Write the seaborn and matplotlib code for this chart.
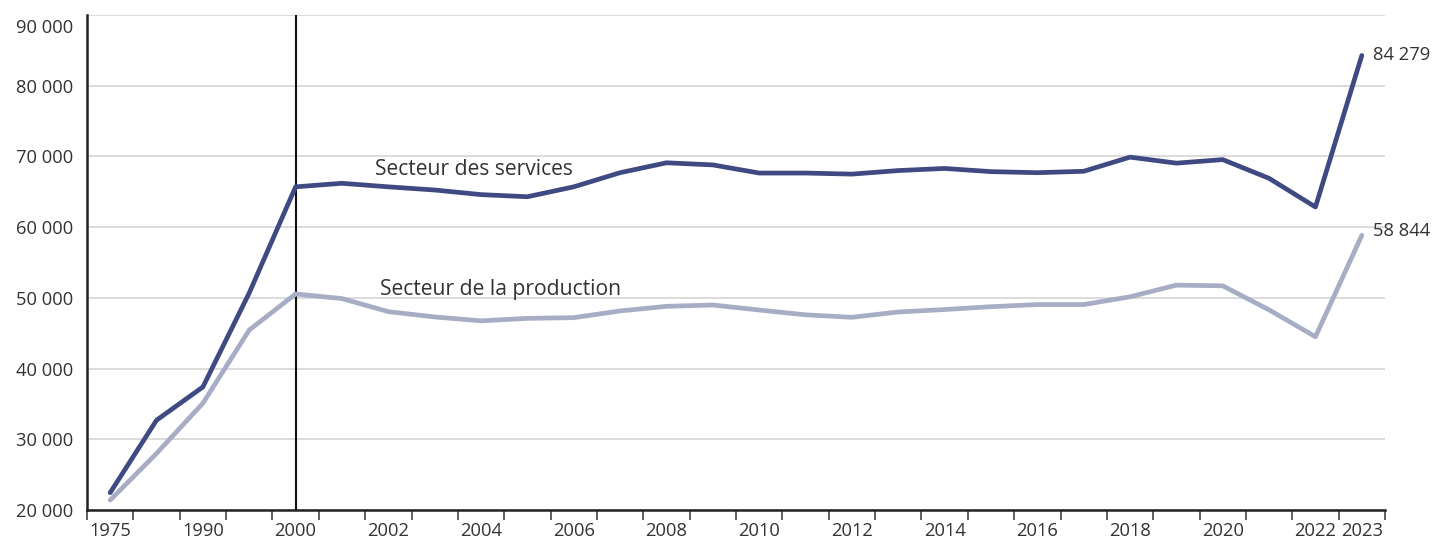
import numpy as np
import pandas as pd
import matplotlib
matplotlib.use("Agg")
import matplotlib.pyplot as plt
import matplotlib.transforms as mtransforms
from matplotlib.ticker import FixedLocator, FuncFormatter, NullFormatter
import seaborn as sns

# data
years = [1975, 1980, 1990, 1995, 2000, 2001, 2002, 2003, 2004, 2005, 2006, 2007,
         2008, 2009, 2010, 2011, 2012, 2013, 2014, 2015, 2016, 2017, 2018, 2019,
         2020, 2021, 2022, 2023]
services = [22450, 32700, 37400, 50700, 65700, 66200, 65700, 65250, 64600, 64300,
            65700, 67700, 69100, 68800, 67650, 67650, 67500, 68000, 68300, 67850,
            67700, 67900, 69900, 69050, 69550, 66900, 62850, 84279]
production = [21400, 28000, 35100, 45450, 50550, 49900, 48050, 47300, 46750, 47100,
              47200, 48150, 48800, 48990, 48280, 47600, 47250, 48000, 48350, 48750,
              49050, 49050, 50150, 51800, 51700, 48300, 44500, 58844]
shown_years = [1975, 1990, 2000, 2002, 2004, 2006, 2008, 2010, 2012, 2014, 2016,
               2018, 2020, 2022, 2023]
series_names = ["Secteur des services", "Secteur de la production"]
colors = ["#3f4a82", "#a7adc5"]

df = pd.DataFrame({
    "pos": list(range(len(years))) * 2,
    "value": services + production,
    "serie": [series_names[0]] * len(years) + [series_names[1]] * len(years),
})

sns.set_style("white")
plt.rcParams["font.family"] = ["Open Sans", "DejaVu Sans"]
txt = "#333333"
fs_tick = 13.2
fs_lab = 15.2

fig = plt.figure(figsize=(14.37, 5.41), dpi=100)
ax = fig.add_axes([87 / 1437, 1 - 510 / 541, (1385 - 87) / 1437, (510 - 15) / 541])

sns.lineplot(data=df, x="pos", y="value", hue="serie", palette=colors,
             linewidth=3.4, legend=False, ax=ax, zorder=3)

ax.set_xlim(-0.5, len(years) - 0.5)
ax.set_ylim(20000, 90000)
ax.set_yticks(np.arange(20000, 90001, 10000))
ax.yaxis.set_major_formatter(FuncFormatter(lambda v, p: f"{int(v):,}".replace(",", " ")))
ax.grid(axis="y", color="#d9d9d9", linewidth=1.3)
ax.set_axisbelow(True)

# ticks at category boundaries, labels centred in each category
ax.xaxis.set_major_locator(FixedLocator(np.arange(-0.5, len(years), 1.0)))
ax.xaxis.set_major_formatter(NullFormatter())
ax.xaxis.set_minor_locator(FixedLocator([years.index(y) for y in shown_years]))
ax.set_xticklabels([str(y) for y in shown_years], minor=True)
ax.tick_params(axis="x", which="major", length=7, width=1.3, color="#555555",
               direction="out", bottom=True)
ax.tick_params(axis="x", which="minor", length=0, pad=9, labelsize=fs_tick, labelcolor=txt)
ax.tick_params(axis="y", length=0, pad=10, labelsize=fs_tick, labelcolor=txt)

for side in ["top", "right"]:
    ax.spines[side].set_visible(False)
for side in ["left", "bottom"]:
    ax.spines[side].set_color("#222222")
    ax.spines[side].set_linewidth(1.8)

# top label sits a bit lower
top_lab = ax.get_yticklabels()[-1]
top_lab.set_transform(top_lab.get_transform() +
                      mtransforms.ScaledTranslation(0, -11 / 100, fig.dpi_scale_trans))

ax.axvline(years.index(2000), color="#111111", linewidth=1.5, zorder=2)

ax.text(5.72, 68100, series_names[0], fontsize=fs_lab, color=txt, va="center", ha="left")
ax.text(5.81, 51250, series_names[1], fontsize=fs_lab, color=txt, va="center", ha="left")

last = len(years) - 1
ax.annotate(f"{services[-1]:,}".replace(",", " "), (last, services[-1]),
            xytext=(8, 0), textcoords="offset points", fontsize=fs_tick, color=txt,
            va="center", ha="left", annotation_clip=False)
ax.annotate(f"{production[-1]:,}".replace(",", " "), (last, production[-1]),
            xytext=(8, 3), textcoords="offset points", fontsize=fs_tick, color=txt,
            va="center", ha="left", annotation_clip=False)

ax.set_xlabel("")
ax.set_ylabel("")
fig.savefig("out.png", dpi=100)
plt.close(fig)
